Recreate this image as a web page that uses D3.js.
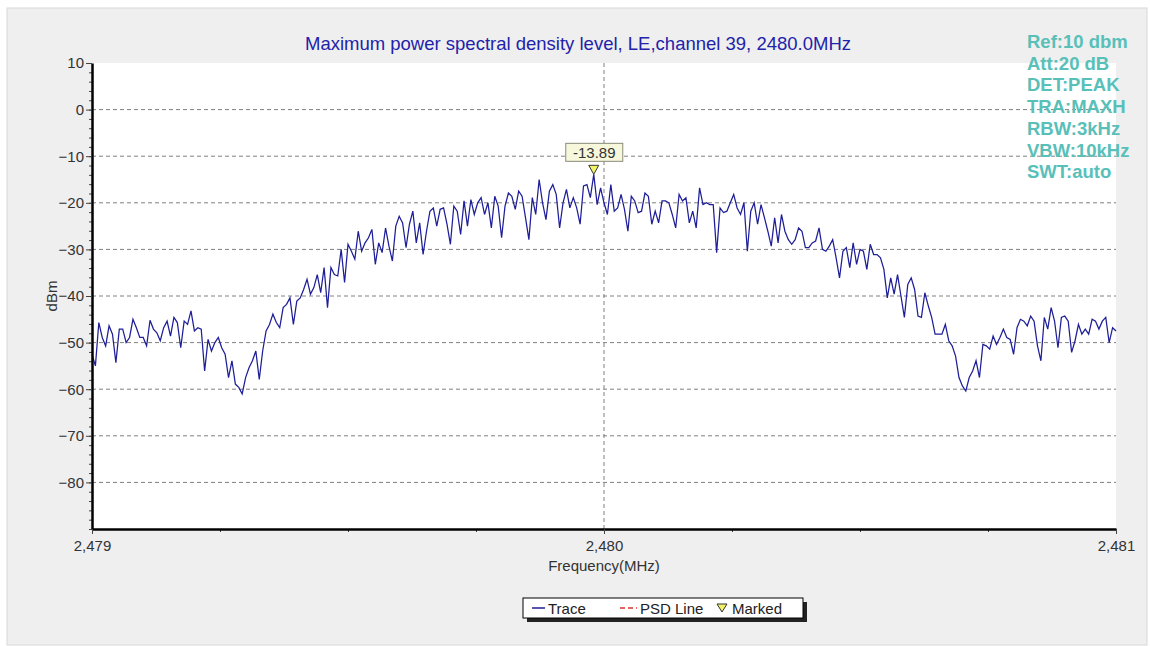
<!DOCTYPE html>
<head>
<meta charset="utf-8">
<script src="https://d3js.org/d3.v7.min.js"></script>
<style>
body { margin: 0; background: #ffffff; }
text { font-family: Arial, "Liberation Sans", sans-serif; }
.tick text { font-size: 15px; fill: #333333; }
.domain { stroke: #000000; stroke-width: 2.5px; }
.tick line { stroke: #444444; }
</style>
<title>PSD channel 39</title>
</head>
<body>
<script>
const width = 1150, height = 646;

// sweep: 301 points from 2479 to 2481 MHz
const freqStart = 2479, freqStop = 2481, sweepPoints = 301;

// trace level (dBm) at each sweep point
const traceDbm = [
 -52.5,-55,-45.7,-48.9,-50.7,-46.4,-48.2,-54.3,-47.1,-47.1,
 -50,-48.9,-45,-46.8,-48.9,-48.9,-50.7,-45.2,-47.1,-47.9,
 -49.6,-46.8,-45.4,-48.6,-44.6,-45.7,-51.1,-45.4,-46.1,-43.2,
 -47.5,-46.8,-47.1,-56.1,-49.3,-51.8,-50,-48.9,-51.1,-52.5,
 -57.5,-53.9,-58.9,-59.6,-61,-57.5,-55.4,-53.9,-51.8,-57.9,
 -51.8,-47.5,-46.1,-43.9,-45.7,-46.8,-42.5,-41.8,-40.4,-46.1,
 -41.1,-40.4,-38.6,-36.4,-39.6,-38.2,-35.4,-39.3,-33.9,-42.5,
 -33.9,-35.4,-35.7,-30,-37.1,-28.9,-30.4,-32.1,-26.1,-30.4,
 -28.6,-27.5,-25.7,-33.2,-28.6,-30.7,-25.4,-29.3,-32.5,-25,
 -22.9,-24.3,-29.6,-24.6,-21.8,-28.6,-24.3,-31.1,-26.1,-21.8,
 -21.1,-25,-21.4,-21.1,-24.6,-28.9,-20.7,-21.8,-26.8,-19.6,
 -25,-19.3,-22.5,-20,-18.9,-22.5,-20,-25.4,-18.6,-20.7,
 -27.5,-20.7,-17.9,-18.6,-21.4,-17.5,-18.6,-23.2,-27.9,-18.9,
 -22.5,-15,-20,-23.6,-17.5,-16.1,-18.2,-25.4,-20,-17.1,
 -21.1,-18.9,-21.1,-24.6,-16.4,-16.1,-18.9,-13.89,-20.4,-16.8,
 -20,-22.5,-16.1,-21.8,-21.1,-18.2,-21.4,-26.1,-18.6,-19.6,
 -22.1,-21.8,-17.9,-18.6,-24.6,-21.8,-24.3,-19.6,-19.6,-20,
 -22.5,-25.4,-18.2,-19.6,-18.9,-24.3,-21.8,-25.4,-16.8,-20.4,
 -20,-20.4,-20.4,-30.7,-21.1,-22.1,-21.8,-20,-18.2,-21.1,
 -22.5,-20,-30.4,-21.8,-20,-24.6,-20.4,-23.2,-26.1,-29.3,
 -23.2,-28.6,-22.5,-26.1,-27.9,-28.9,-27.9,-25.4,-26.1,-29.6,
 -29.6,-28.6,-28.2,-25.4,-30,-30.4,-29.3,-27.9,-31.8,-36.1,
 -30.4,-29.6,-33.9,-28.6,-33.2,-30,-30.4,-34.3,-28.9,-31.1,
 -31.1,-31.8,-34.3,-40.4,-36.1,-39.6,-35.4,-40,-44.6,-37.5,
 -36.1,-38.6,-44.3,-44.6,-39.3,-42.1,-44.6,-48.2,-48.2,-48.2,
 -46.1,-49.6,-50.7,-52.9,-57.5,-59.3,-60.4,-57.5,-56.1,-53.9,
 -57.5,-50.4,-50.7,-51.4,-48.6,-50.4,-48.9,-47.1,-48.9,-49.3,
 -52.5,-46.8,-45,-45.4,-46.4,-44.3,-45.4,-50.7,-53.9,-44.6,
 -47.1,-42.5,-45.4,-51.1,-44.6,-44.3,-45.4,-52.1,-49.6,-46.1,
 -48.2,-47.1,-48.2,-45,-45.4,-47.1,-45.4,-44.6,-50,-46.8,
 -47.5
];

// marker
const markerIndex = 147;
const markerLabel = "-13.89";

// axis ticks
const yTicks = [10, 0, -10, -20, -30, -40, -50, -60, -70, -80];
const yMinorTicks = d3.range(-90, 10.1, 2);
const xTicks = [2479, 2480, 2481];
const xMinorTicks = [2479.25, 2479.5, 2479.75, 2480.25, 2480.5, 2480.75];

const titleText = "Maximum power spectral density level, LE,channel 39, 2480.0MHz";
const infoLines = ["Ref:10 dbm", "Att:20 dB", "DET:PEAK", "TRA:MAXH", "RBW:3kHz", "VBW:10kHz", "SWT:auto"];
const legendItems = ["Trace", "PSD Line", "Marked"];

const traceColour = "#1e1e98";

const svg = d3.select("body").append("svg")
   .attr("width", width)
   .attr("height", height);

// grey panel
svg.append("rect")
   .attr("x", 7).attr("y", 8)
   .attr("width", 1140).attr("height", 637)
   .style("fill", "#efefef")
   .style("stroke", "#d8d8d8");

const margin = {top: 63, right: 34, bottom: 117, left: 92};

const x = d3.scaleLinear()
   .domain([freqStart, freqStop])
   .range([margin.left, width - margin.right]);

const y = d3.scaleLinear()
   .domain([-90, 10])
   .range([height - margin.bottom, margin.top]);

// plot background
svg.append("rect")
   .attr("x", x(freqStart)).attr("y", y(10))
   .attr("width", x(freqStop) - x(freqStart))
   .attr("height", y(-90) - y(10))
   .style("fill", "#ffffff");

// grid
svg.append("g").selectAll("line")
   .data(yTicks.filter(d => d < 10))
   .enter().append("line")
   .attr("x1", x(freqStart)).attr("x2", x(freqStop))
   .attr("y1", d => y(d)).attr("y2", d => y(d))
   .style("stroke", "#808080")
   .style("stroke-dasharray", "4,3")
   .style("stroke-width", 1);

svg.append("line")
   .attr("x1", x(2480)).attr("x2", x(2480))
   .attr("y1", y(10)).attr("y2", y(-90))
   .style("stroke", "#808080")
   .style("stroke-dasharray", "4,3");

// trace
const trace = traceDbm.map((v, i) => ({
   f: freqStart + i * (freqStop - freqStart) / (sweepPoints - 1),
   v: v
}));

const line = d3.line()
   .x(d => x(d.f))
   .y(d => y(d.v));

svg.append("path")
   .datum(trace)
   .attr("d", line)
   .style("fill", "none")
   .style("stroke", traceColour)
   .style("stroke-width", 1.25);

// axes
svg.append("g")
   .attr("transform", `translate(${x(freqStart)},0)`)
   .call(d3.axisLeft(y).tickValues(yMinorTicks).tickSize(3).tickFormat(""))
   .call(g => g.select(".domain").remove());

svg.append("g")
   .attr("class", "axis yAxis")
   .attr("transform", `translate(${x(freqStart)},0)`)
   .call(d3.axisLeft(y).tickValues(yTicks).tickSize(6).tickSizeOuter(0).tickPadding(2));

svg.append("g")
   .attr("transform", `translate(0,${y(-90)})`)
   .call(d3.axisBottom(x).tickValues(xMinorTicks).tickSize(3).tickFormat(""))
   .call(g => g.select(".domain").remove());

svg.append("g")
   .attr("class", "axis xAxis")
   .attr("transform", `translate(0,${y(-90)})`)
   .call(d3.axisBottom(x).tickValues(xTicks).tickSize(5).tickSizeOuter(0).tickPadding(6).tickFormat(d3.format(",")));

// axis titles
svg.append("text")
   .attr("x", x(2480)).attr("y", 571)
   .style("text-anchor", "middle")
   .style("font-size", "15px")
   .style("fill", "#333333")
   .text("Frequency(MHz)");

svg.append("text")
   .attr("transform", `translate(57,${y(-40)}) rotate(-90)`)
   .style("text-anchor", "middle")
   .style("font-size", "15px")
   .style("fill", "#333333")
   .text("dBm");

// title
svg.append("text")
   .attr("x", 578).attr("y", 50)
   .style("text-anchor", "middle")
   .style("font-size", "18.5px")
   .style("fill", "#2222aa")
   .text(titleText);

// analyser settings
svg.append("g").selectAll("text")
   .data(infoLines)
   .enter().append("text")
   .attr("x", 1027)
   .attr("y", (d, i) => 48 + i * 21.7)
   .style("font-size", "18.5px")
   .style("font-weight", "bold")
   .style("fill", "#58c0b8")
   .text(d => d);

// marker
const mk = trace[markerIndex];
const mx = x(mk.f), my = y(mk.v);
svg.append("path")
   .attr("d", `M${mx - 5},${my - 9}L${mx + 5},${my - 9}L${mx},${my}Z`)
   .style("fill", "#f2f266")
   .style("stroke", "#333333")
   .style("stroke-width", 1);

svg.append("rect")
   .attr("x", mx - 28).attr("y", my - 31)
   .attr("width", 57).attr("height", 18)
   .style("fill", "#f7f7dc")
   .style("stroke", "#8a8a7a");

svg.append("text")
   .attr("x", mx + 0.5).attr("y", my - 16.5)
   .style("text-anchor", "middle")
   .style("font-size", "15px")
   .style("fill", "#333333")
   .text(markerLabel);

// legend
const lg = svg.append("g").attr("transform", "translate(523,598)");
lg.append("rect")
   .attr("x", 4).attr("y", 4).attr("width", 280).attr("height", 20)
   .style("fill", "#222222");
lg.append("rect")
   .attr("x", 0).attr("y", 0).attr("width", 280).attr("height", 20)
   .style("fill", "#ffffff")
   .style("stroke", "#000000");

lg.append("line")
   .attr("x1", 9).attr("x2", 22).attr("y1", 10).attr("y2", 10)
   .style("stroke", traceColour).style("stroke-width", 1.5);
lg.append("line")
   .attr("x1", 97).attr("x2", 114).attr("y1", 10).attr("y2", 10)
   .style("stroke", "#e03030").style("stroke-width", 1.5)
   .style("stroke-dasharray", "5,3");
lg.append("path")
   .attr("d", "M194,6L204,6L199,14Z")
   .style("fill", "#f2f266")
   .style("stroke", "#333333");

lg.selectAll("text.legendLabel")
   .data(legendItems)
   .enter().append("text")
   .attr("class", "legendLabel")
   .attr("x", (d, i) => [25, 117, 209][i])
   .attr("y", 15.5)
   .style("font-size", "15px")
   .style("fill", "#222222")
   .text(d => d);
</script>
</body>
